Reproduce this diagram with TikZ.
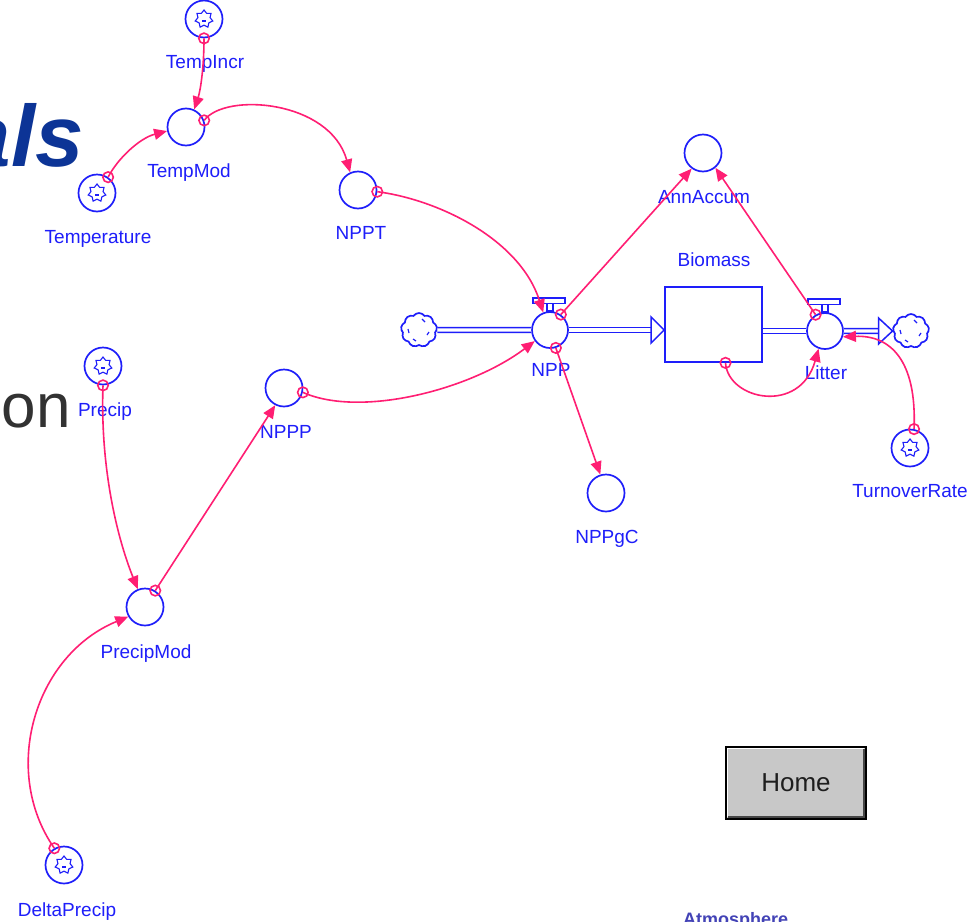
\documentclass[tikz,border=0pt]{standalone}
\usepackage{fontspec}
\setmainfont{Liberation Sans}
\usetikzlibrary{arrows.meta,shapes.geometric,shapes.symbols,calc}

\definecolor{stellablue}{RGB}{30,30,250}
\definecolor{linkpink}{RGB}{255,30,115}
\definecolor{titleblue}{RGB}{12,52,150}
\definecolor{captiongray}{RGB}{50,50,50}
\definecolor{btngray}{RGB}{200,200,200}
\definecolor{btnshade}{RGB}{70,70,70}
\definecolor{atmosblue}{RGB}{35,35,170}

\tikzset{
  aux/.style={circle, draw=stellablue, line width=1.7pt, fill=white,
    minimum size=37pt, inner sep=0pt},
  ghostconv/.style={aux},
  ghoststar/.style={star, star points=7, star point ratio=1.45, draw=stellablue,
    line width=1.1pt, minimum size=18pt, inner sep=0pt},
  valve/.style={aux, minimum size=36pt},
  valvepart/.style={draw=stellablue, line width=1.4pt, fill=white},
  stockbox/.style={rectangle, draw=stellablue, line width=1.7pt, fill=white,
    minimum width=97pt, minimum height=75pt, inner sep=0pt},
  cloudsym/.style={cloud, cloud puffs=9, cloud puff arc=110, aspect=1,
    draw=stellablue, line width=1.7pt, fill=white,
    minimum width=36pt, minimum height=34pt, inner sep=0pt},
  pipe/.style={draw=stellablue, line width=1.5pt, double=white, double distance=3.4pt},
  flowhead/.style={draw=stellablue, line width=1.5pt, fill=white, line join=miter},
  lbl/.style={text=stellablue, font=\fontsize{19}{19}\selectfont, inner sep=0pt,
    text height=13.5pt, text depth=0pt},
  infolink/.style={draw=linkpink, line width=1.6pt, -{Triangle[length=13pt,width=11pt]}},
  linkstart/.style={circle, draw=linkpink, line width=1.6pt, minimum size=10.5pt, inner sep=0pt},
}

\begin{document}
\begin{tikzpicture}[x=1pt,y=-1pt]
\useasboundingbox (0,0) rectangle (976,921);
\fill[white] (0,0) rectangle (976,921);

% heading fragments at the left edge
\node[anchor=base east, inner sep=0pt, text=titleblue,
  font=\fontsize{87}{87}\selectfont\bfseries\itshape] (title) at (84,166) {als};
\node[anchor=base east, inner sep=0pt, text=captiongray,
  font=\fontsize{62}{62}\selectfont] (caption) at (71,427) {on};

% converters
\node[ghostconv] (tempincr) at (204,19) {};
\node[aux] (tempmod) at (186,127) {};
\node[ghostconv] (temperature) at (97,193) {};
\node[aux] (nppt) at (358,190) {};
\node[aux] (annaccum) at (703,153) {};
\node[aux] (nppgc) at (606,493) {};
\node[ghostconv] (turnover) at (910,448) {};
\node[ghostconv] (precip) at (103,366) {};
\node[aux] (nppp) at (284,388) {};
\node[aux] (precipmod) at (145,607) {};
\node[ghostconv] (deltaprecip) at (64,865) {};

% ghost marks inside the input converters
\foreach \g in {tempincr,temperature,turnover,precip,deltaprecip}{
  \node[ghoststar] (\g-s) at (\g) {};
  \draw[stellablue, line width=1.2pt] ([shift={(-2,2)}]\g.center) -- ([shift={(2,2)}]\g.center);
}

% stock, clouds and valves
\node[stockbox] (biomass) at (713.5,324.5) {};
\node[cloudsym] (source) at (419,330) {};
\node[cloudsym] (sink) at (911,331) {};
\node[valve] (npp) at (550,330) {};
\node[valve] (litter) at (825,331) {};

\foreach \c in {source,sink}{
  \draw[stellablue, line width=1.2pt]
    ([shift={(3,-11)}]\c.center) -- ([shift={(6,-8)}]\c.center)
    ([shift={(-11,-1)}]\c.center) -- ([shift={(-10,3)}]\c.center)
    ([shift={(-6,9)}]\c.center) -- ([shift={(-3,11)}]\c.center)
    ([shift={(8,5)}]\c.center) -- ([shift={(10,2)}]\c.center);
}

\foreach \v in {npp,litter}{
  \draw[valvepart] ([shift={(-17,-32)}]\v.center) rectangle ([shift={(15,-26.5)}]\v.center);
  \draw[valvepart] ([shift={(-3,-26.5)}]\v.center) rectangle ([shift={(3,-19)}]\v.center);
}

% flows
\coordinate (bioin) at (npp.east -| biomass.west);
\coordinate (sinkin) at (sink.west);
\draw[pipe] (source.east) -- (npp.west);
\draw[pipe] (npp.east) -- ([xshift=-13pt]bioin);
\draw[flowhead] ([shift={(-13,-13)}]bioin) -- (bioin) -- ([shift={(-13,13)}]bioin) -- cycle;
\draw[pipe] (biomass.east |- litter.west) -- (litter.west);
\draw[pipe] (litter.east) -- ([xshift=-14pt]sinkin);
\draw[flowhead] ([shift={(-14,-13)}]sinkin) -- (sinkin) -- ([shift={(-14,13)}]sinkin) -- cycle;

% labels
\node[lbl] (l-tempincr) at (205,62) {TempIncr};
\node[lbl] (l-tempmod) at (189,171) {TempMod};
\node[lbl] (l-temperature) at (98,237) {Temperature};
\node[lbl] (l-nppt) at (361,233) {NPPT};
\node[lbl] (l-npp) at (551,370) {NPP};
\node[lbl] (l-annaccum) at (704,197) {AnnAccum};
\node[lbl] (l-biomass) at (714,260) {Biomass};
\node[lbl] (l-litter) at (826,373) {Litter};
\node[lbl] (l-nppgc) at (607,537) {NPPgC};
\node[lbl] (l-turnover) at (910,491) {TurnoverRate};
\node[lbl] (l-precip) at (105,410) {Precip};
\node[lbl] (l-nppp) at (286,432) {NPPP};
\node[lbl] (l-precipmod) at (146,652) {PrecipMod};
\node[lbl] (l-deltaprecip) at (67,910) {DeltaPrecip};

% information links
\coordinate (bioout) at ([xshift=12pt]biomass.south);
\draw[infolink] (tempincr.south) .. controls (204,70) and (200,92) .. (tempmod.65);
\draw[infolink] (temperature.55) .. controls (118,158) and (140,138) .. (tempmod.192);
\draw[infolink] (tempmod.20) .. controls (225,92) and (330,100) .. (nppt.114);
\draw[infolink] (nppt.-5) .. controls (440,200) and (520,240) .. (npp.111);
\draw[infolink] (nppp.-13) .. controls (360,418) and (470,390) .. (npp.216);
\draw[infolink] (npp.55) -- (annaccum.234);
\draw[infolink] (litter.120) -- (annaccum.-50);
\draw[infolink] (bioout) .. controls (728,400) and (800,415) .. (litter.250);
\draw[infolink] (turnover.78) .. controls (917,360) and (890,335) .. (litter.-18);
\draw[infolink] (npp.-72) -- (nppgc.107);
\draw[infolink] (precip.south) .. controls (100,470) and (118,540) .. (precipmod.112);
\draw[infolink] (precipmod.58) -- (nppp.243);
\draw[infolink] (deltaprecip.120) .. controls (0,770) and (35,655) .. (precipmod.210);

% link origins
\node[linkstart] (o-tempincr) at (tempincr.south) {};
\node[linkstart] (o-temperature) at (temperature.55) {};
\node[linkstart] (o-tempmod) at (tempmod.20) {};
\node[linkstart] (o-nppt) at (nppt.-5) {};
\node[linkstart] (o-nppp) at (nppp.-13) {};
\node[linkstart] (o-npp1) at (npp.55) {};
\node[linkstart] (o-litter) at (litter.120) {};
\node[linkstart] (o-biomass) at (bioout) {};
\node[linkstart] (o-turnover) at (turnover.78) {};
\node[linkstart] (o-npp2) at (npp.-72) {};
\node[linkstart] (o-precip) at (precip.south) {};
\node[linkstart] (o-precipmod) at (precipmod.58) {};
\node[linkstart] (o-deltaprecip) at (deltaprecip.120) {};

% home button
\node[draw=black, line width=1.6pt, fill=btngray, minimum width=140pt, minimum height=72pt,
  inner sep=0pt, font=\fontsize{26}{26}\selectfont, text={rgb,255:red,30;green,30;blue,30}]
  (home) at (796,783) {Home};
\draw[white, line width=1.2pt] ([shift={(2.5,-2.5)}]home.south west) -- ([shift={(2.5,2.5)}]home.north west)
  -- ([shift={(-2.5,2.5)}]home.north east);
\draw[btnshade, line width=2pt] ([shift={(2.5,-2.5)}]home.south west) -- ([shift={(-2.5,-2.5)}]home.south east)
  -- ([shift={(-2.5,2.5)}]home.north east);

% caption cut by the lower edge
\node[anchor=base west, inner sep=0pt, text=atmosblue, opacity=0.85,
  font=\fontsize{18}{18}\selectfont\bfseries] (atmos) at (683,925) {Atmosphere};
\end{tikzpicture}
\end{document}
